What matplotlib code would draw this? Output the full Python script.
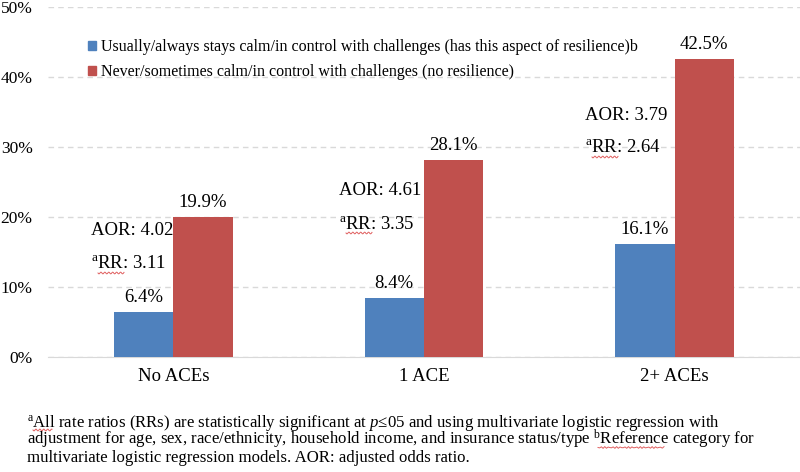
import matplotlib
matplotlib.use("Agg")
import matplotlib.pyplot as plt
import numpy as np
from matplotlib.patches import Patch

plt.rcParams['font.family'] = ['Liberation Serif', 'DejaVu Serif']
plt.rcParams['mathtext.fontset'] = 'custom'
plt.rcParams['mathtext.rm'] = 'Liberation Serif'
plt.rcParams['mathtext.it'] = 'Liberation Serif:italic'

categories = ['No ACEs', '1 ACE', '2+ ACEs']
calm = [6.4, 8.4, 16.1]
not_calm = [19.9, 28.1, 42.5]
aor = ['4.02', '4.61', '3.79']
rr = ['3.11', '3.35', '2.64']
series_names = ['Usually/always stays calm/in control with challenges (has this aspect of resilience)b',
                'Never/sometimes calm/in control with challenges (no resilience)']
yticks = [0, 10, 20, 30, 40, 50]

blue = '#4F81BD'
red = '#C0504D'
W, H = 800, 472

fig = plt.figure(figsize=(8, 4.72), dpi=100)
ax = fig.add_axes([0.06, 0.2443, 0.94, 0.7415])

x = np.arange(len(categories))
w = 0.237
b1 = ax.bar(x - w / 2, calm, w, color=blue, zorder=3)
b2 = ax.bar(x + w / 2, not_calm, w, color=red, zorder=3)

for bars, vals in [(b1, calm), (b2, not_calm)]:
    for rect, v in zip(bars, vals):
        ax.annotate(f'{v:.1f}%', (rect.get_x() + rect.get_width() / 2, v),
                    xytext=(0, 4.5), textcoords='offset points',
                    ha='center', va='bottom', fontsize=13.5)


def squiggle(x0, x1, y):
    # word-processor style red wavy underline, given in pixels
    xs = np.linspace(x0, x1, 40)
    ys = y + 0.9 * np.sin((xs - x0) * 1.6)
    fig.add_artist(plt.Line2D(xs / W, 1 - ys / H, color='#E06060', lw=0.7))


# AOR / RR labels (pixel positions of the left edge, y centres)
aor_pos = [(91, 231, 264), (339, 191, 224), (585, 115, 148)]
for (px, y1, y2), a, r in zip(aor_pos, aor, rr):
    fig.text(px / W, 1 - y1 / H, f'AOR: {a}', ha='left', va='center', fontsize=13.5)
    fig.text(px / W, 1 - y2 / H, r'$^{\mathrm{a}}$' + f'RR: {r}', ha='left', va='center', fontsize=13.5)
    squiggle(px + 7, px + 33, y2 + 9)

ax.set_xlim(-0.5, 2.5)
ax.set_ylim(0, 50)
ax.set_yticks(yticks)
ax.set_yticklabels([f'{t}%' for t in yticks])
ax.set_xticks(x)
ax.set_xticklabels(categories)
ax.tick_params(axis='y', length=0, pad=11, labelsize=12.5)
ax.tick_params(axis='x', length=0, pad=8, labelsize=13.5)
for s in ['top', 'right', 'left']:
    ax.spines[s].set_visible(False)
ax.spines['bottom'].set_color('#D9D9D9')
ax.yaxis.grid(True, color='#D9D9D9', linestyle=(0, (4, 3)), linewidth=1, zorder=0)
ax.set_axisbelow(True)

handles = [Patch(color=blue), Patch(color=red)]
fig.legend(handles, series_names, loc='upper left', bbox_to_anchor=(88 / W, 1 - 39 / H),
           frameon=False, fontsize=11.5, handlelength=0.5, handleheight=0.5,
           handletextpad=0.3, labelspacing=0.55, borderpad=0, borderaxespad=0)

foot = [r'$^{\mathrm{a}}$All rate ratios (RRs) are statistically significant at $p$≤05 and using multivariate logistic regression with',
        r'adjustment for age, sex, race/ethnicity, household income, and insurance status/type $^{\mathrm{b}}$Reference category for',
        'multivariate logistic regression models. AOR: adjusted odds ratio.']
for i, line in enumerate(foot):
    fig.text(27 / W, 1 - (427 + 17.5 * i) / H, line, ha='left', va='baseline', fontsize=12.1)
squiggle(33, 52, 430)
squiggle(598, 664, 447.5)

fig.savefig('out.png', dpi=100)
